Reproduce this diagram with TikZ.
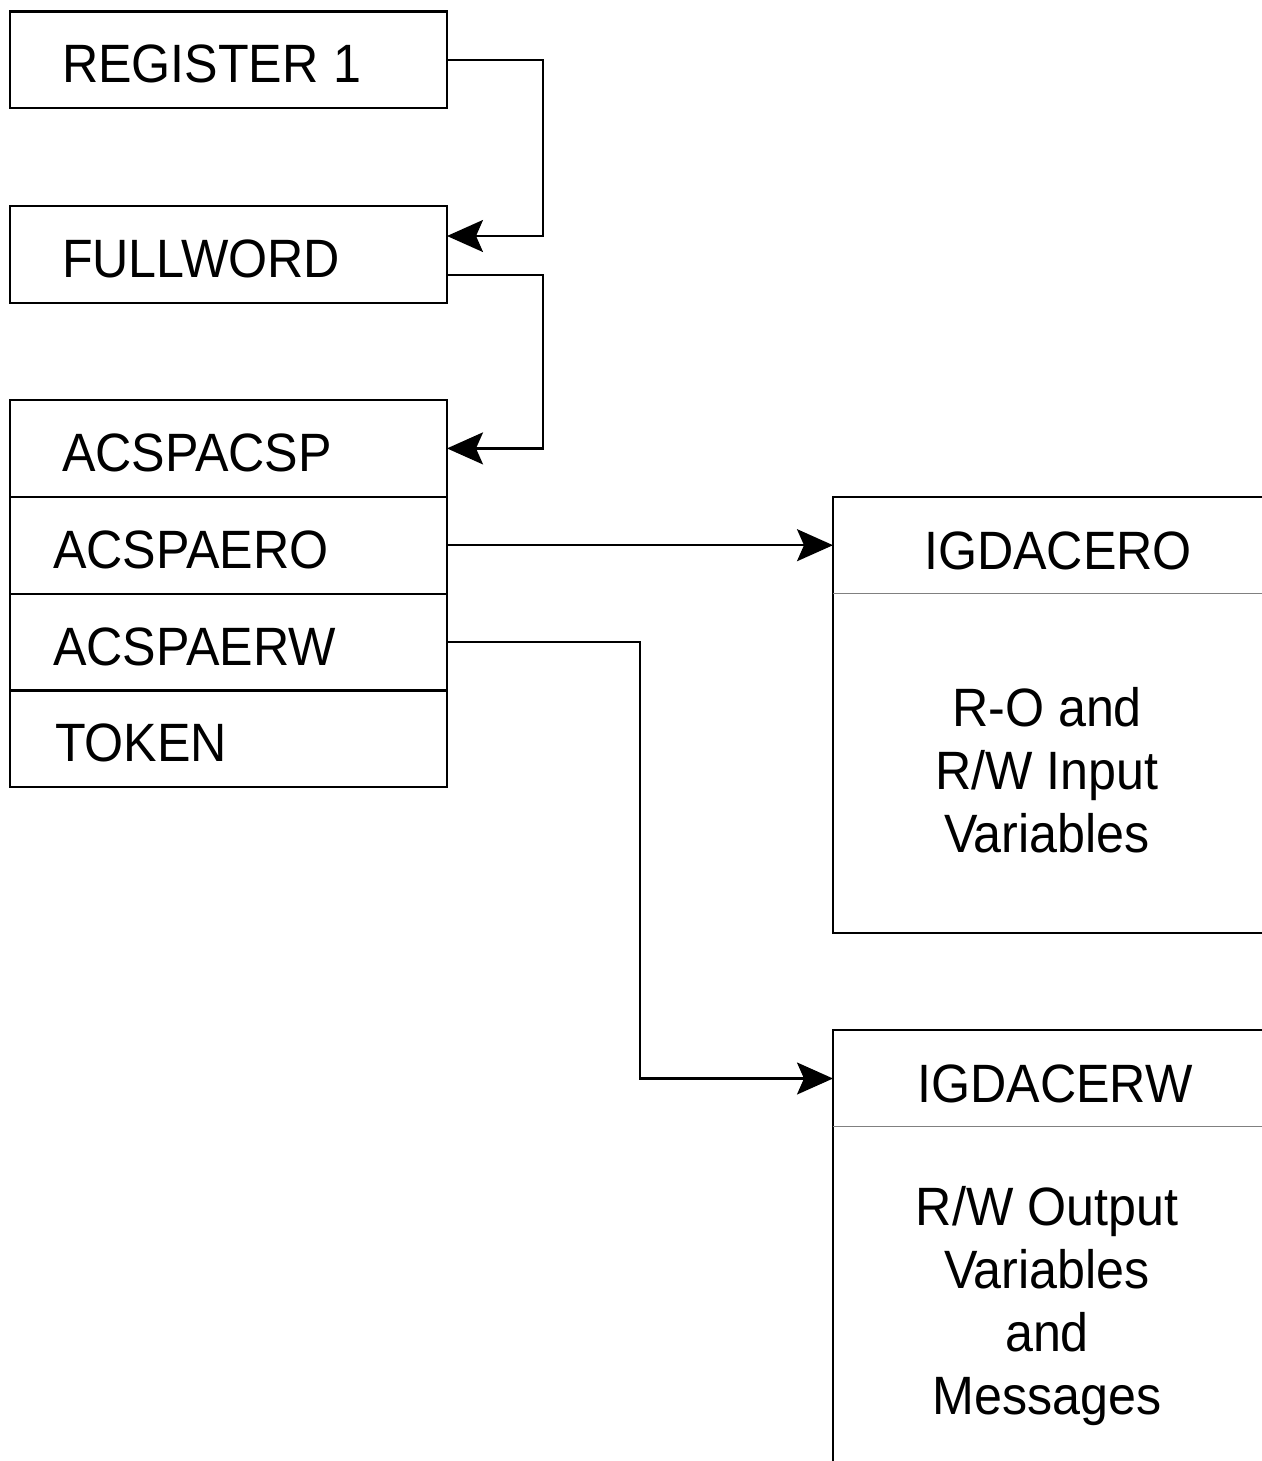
\documentclass[tikz,border=0pt]{standalone}
\usepackage{fontspec}
\setmainfont{Liberation Sans}[FakeStretch=0.93]
\usetikzlibrary{arrows.meta,positioning}
\tikzset{
  lbox/.style={draw, line width=1.1pt, outer sep=0pt, minimum width=218.5pt,
               minimum height=48.4pt, align=left, text height=23pt, text depth=0pt},
  far/.style={lbox, inner xsep=26pt, text width=166.5pt},
  near/.style={lbox, inner xsep=21.5pt, text width=175.5pt},
  rbox/.style={draw, line width=1.1pt, outer sep=0pt, minimum width=233.5pt},
  rtitle/.style={outer sep=0pt, minimum height=48pt, text height=24pt, text depth=0pt},
  rbody/.style={align=center},
  conn/.style={-{Stealth[length=18pt, width=16pt, inset=3.5pt]}, line width=1.1pt}
}
\begin{document}
\begin{tikzpicture}[x=0.5pt, y=-0.5pt, font=\fontsize{27pt}{31.5pt}\selectfont]
  \clip (0,0) rectangle (1262,1461);
  % left chain
  \node[far] (reg) at (228.5,60) {REGISTER\kern-1.5pt\ 1};
  \node[far] (full) at (228.5,254.5) {FULLWORD};
  \node[far] (acsp) at (228.5,448.4) {ACSPACSP};
  \node[near, below=0pt of acsp] (aero) {ACSPAERO};
  \node[near, below=0pt of aero] (aerw) {ACSPAERW};
  \node[lbox, inner xsep=22.5pt, text width=173.5pt, below=0pt of aerw] (tok) {TOKEN};
  % right areas
  \node[rbox, minimum height=218pt] (ro) at (1066.5,715) {};
  \node[rtitle, minimum width=225pt] (rotitle) at (1058,545) {IGDACERO};
  \node[rbody] (robody) at (1047,770) {R-O and\\R/W Input\\Variables};
  \node[rbox, minimum height=235pt] (rw) at (1066.5,1265) {};
  \node[rtitle, minimum width=222pt] (rwtitle) at (1055,1078.5) {IGDACERW};
  \node[rbody] (rwbody) at (1047,1306) {R/W Output\\Variables\\and\\Messages};
  \draw[gray, thin] (ro.west |- rotitle.south) -- (ro.east |- rotitle.south);
  \draw[gray, thin] (rw.west |- rwtitle.south) -- (rw.east |- rwtitle.south);
  % pointers
  \draw[conn] (reg.east) -- ++(96,0) |- ([yshift=9.25pt]full.east);
  \draw[conn] ([yshift=-10.25pt]full.east) -- ++(96,0) |- (acsp.east);
  \draw[conn] (aero.east) -- (aero.east -| rotitle.west);
  \draw[conn] (aerw.east) -- ++(193,0) |- (rwtitle.west);
\end{tikzpicture}
\end{document}
